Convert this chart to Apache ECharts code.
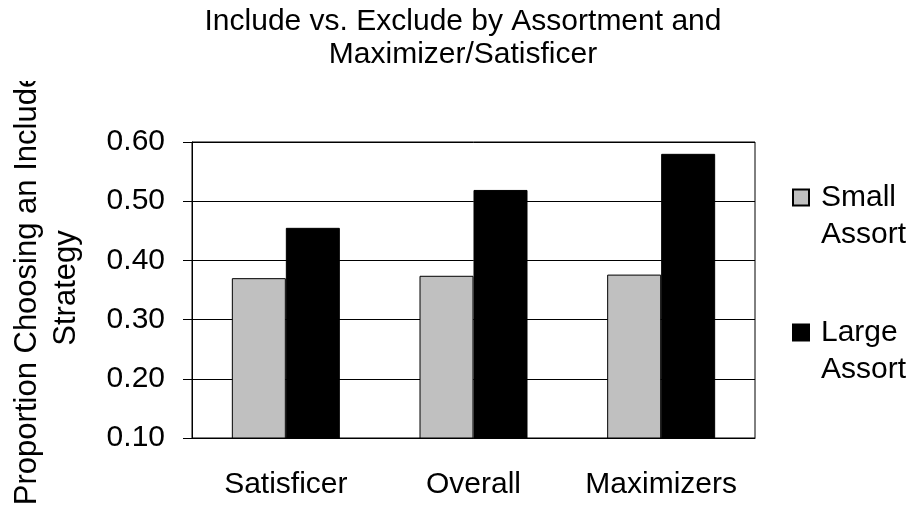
<!DOCTYPE html>
<html>
    <head>
        <meta charset="utf-8">
        <title>Include vs. Exclude</title>
        <script src="https://cdn.jsdelivr.net/npm/echarts@6/dist/echarts.min.js"></script>
        <style>
            html, body { margin: 0; padding: 0; background: #fff; }
            #chart { width: 917px; height: 510px; }
        </style>
    </head>
    <body>
        <div id="chart"></div>
        <script type="text/javascript">
        // data
        var categories = ['Satisficer', 'Overall', 'Maximizers'];
        var smallAssort = [0.370, 0.374, 0.376];
        var largeAssort = [0.455, 0.519, 0.580];
        var yTicks = [0.10, 0.20, 0.30, 0.40, 0.50, 0.60];

        var FONT = "'Liberation Sans', Arial, sans-serif";
        var myChart = echarts.init(document.getElementById('chart'));

        myChart.setOption({
            animation: false,
            backgroundColor: '#fff',
            title: {
                text: 'Include vs. Exclude by Assortment and\nMaximizer/Satisficer',
                left: 463,
                top: 5,
                padding: 0,
                textAlign: 'center',
                textStyle: { fontFamily: FONT, fontSize: 30, fontWeight: 'normal', color: '#000', lineHeight: 33 }
            },
            legend: {
                orient: 'vertical',
                left: 792,
                top: 142,
                padding: 0,
                itemGap: 24,
                itemWidth: 16,
                itemHeight: 16,
                icon: 'rect',
                data: ['Small\nAssort', 'Large\nAssort'],
                // empty first line so the square sits beside the first word, as in the original
                formatter: function (name) { return '\n' + name; },
                textStyle: {
                    fontFamily: FONT, fontSize: 30, color: '#000', lineHeight: 37,
                    padding: [0, 0, 0, 7]
                }
            },
            grid: {
                left: 192, right: 162, top: 142, bottom: 72,
                show: true, borderColor: '#000', borderWidth: 1
            },
            xAxis: {
                type: 'category',
                data: categories,
                axisLine: { lineStyle: { color: '#000', width: 1 } },
                axisTick: { length: 9, lineStyle: { color: '#000' } },
                axisLabel: { interval: 0, margin: 32, fontFamily: FONT, fontSize: 30, color: '#000' }
            },
            yAxis: {
                type: 'value',
                min: yTicks[0],
                max: yTicks[yTicks.length - 1],
                interval: 0.1,
                axisLine: { show: true, lineStyle: { color: '#000', width: 1 } },
                axisTick: { show: true, length: 9, lineStyle: { color: '#000' } },
                splitLine: { lineStyle: { color: '#000', width: 1 } },
                axisLabel: {
                    margin: 27, fontFamily: FONT, fontSize: 30, color: '#000',
                    formatter: function (v) { return v.toFixed(2); }
                }
            },
            series: [
                {
                    name: 'Small\nAssort',
                    type: 'bar',
                    barWidth: 54,
                    barGap: '0%',
                    data: smallAssort,
                    itemStyle: { color: '#c0c0c0', borderColor: '#000', borderWidth: 1 }
                },
                {
                    name: 'Large\nAssort',
                    type: 'bar',
                    barWidth: 54,
                    barGap: '0%',
                    data: largeAssort,
                    itemStyle: { color: '#000', borderColor: '#000', borderWidth: 1 }
                }
            ],
            graphic: [
                {
                    type: 'text',
                    x: 47,
                    y: 288,
                    rotation: Math.PI / 2,
                    z: 10,
                    style: {
                        text: 'Proportion Choosing an Include\nStrategy',
                        fontFamily: FONT,
                        fontSize: 31,
                        lineHeight: 39,
                        align: 'center',
                        verticalAlign: 'middle',
                        fill: '#000'
                    }
                },
                {
                    // the original's text box cuts off the end of the axis title
                    type: 'rect',
                    z: 100,
                    shape: { x: 0, y: 0, width: 55, height: 81 },
                    style: { fill: '#fff' }
                }
            ]
        });
        </script>
    </body>
</html>
